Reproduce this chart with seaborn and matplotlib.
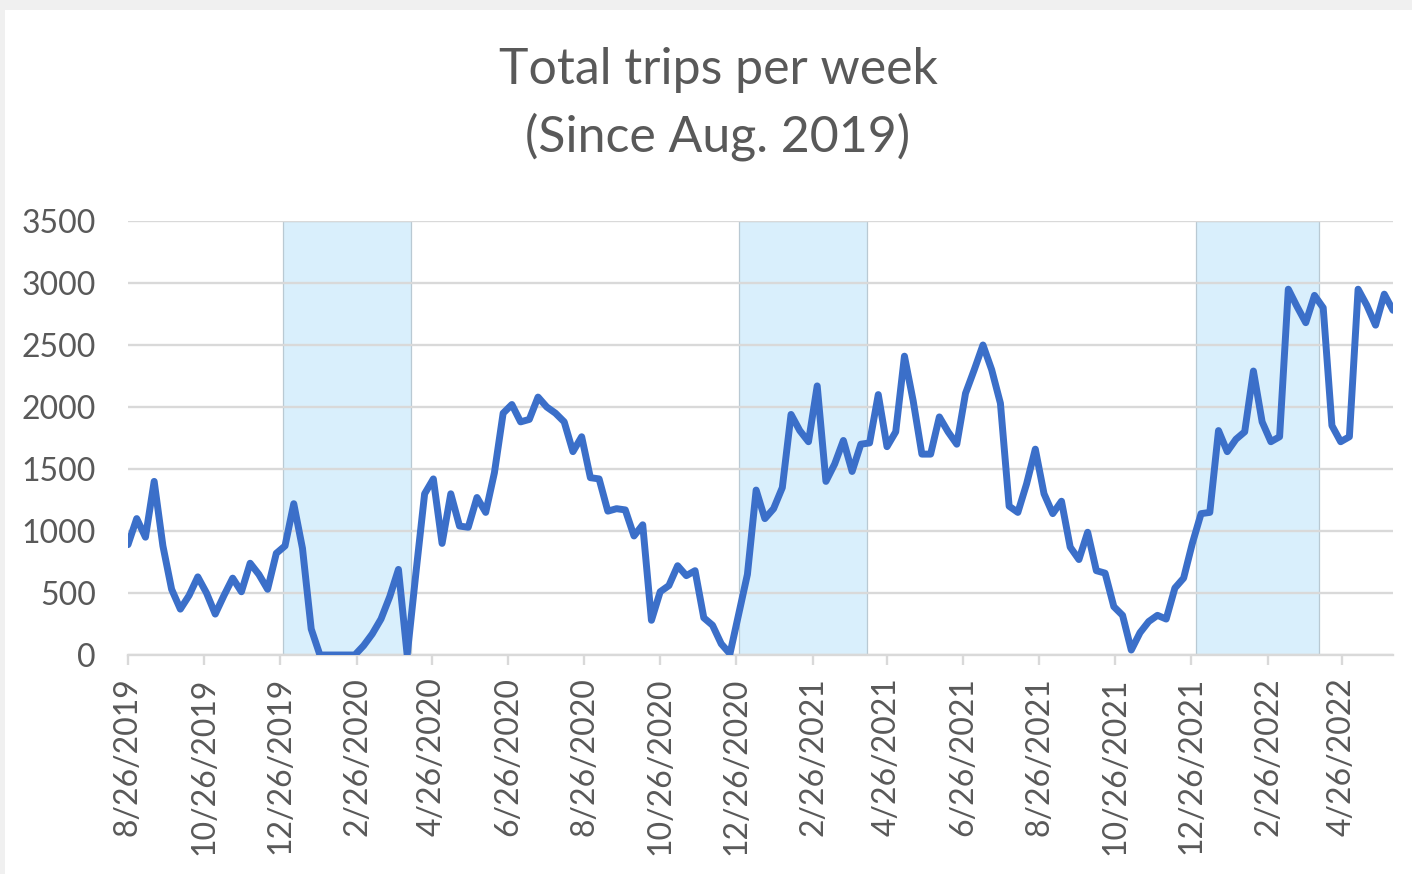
import matplotlib
matplotlib.use("Agg")
import matplotlib.pyplot as plt
import seaborn as sns
import pandas as pd
import numpy as np
from matplotlib.patches import Rectangle
from matplotlib.ticker import FixedLocator, FixedFormatter

title = "Total trips per week\n(Since Aug. 2019)"
start_date = "2019-08-26"
trips = [
    890, 1100, 950, 1400, 880, 530, 370, 480, 630, 500,
    330, 480, 620, 510, 740, 650, 530, 820, 880, 1220,
    860, 210, 0, 0, 0, 0, 0, 75, 170, 290,
    470, 690, 0, 660, 1300, 1420, 900, 1300, 1040, 1030,
    1270, 1150, 1470, 1950, 2020, 1880, 1900, 2080, 2000, 1950,
    1880, 1640, 1760, 1430, 1420, 1160, 1180, 1170, 960, 1050,
    280, 510, 560, 720, 640, 680, 300, 240, 90, 10,
    330, 650, 1330, 1100, 1180, 1350, 1940, 1810, 1720, 2170,
    1400, 1540, 1730, 1480, 1700, 1710, 2100, 1680, 1800, 2410,
    2050, 1620, 1620, 1920, 1800, 1700, 2110, 2300, 2500, 2300,
    2030, 1200, 1150, 1380, 1660, 1300, 1140, 1240, 870, 770,
    990, 680, 660, 390, 320, 40, 180, 270, 320, 290,
    540, 620, 900, 1140, 1150, 1810, 1640, 1740, 1800, 2290,
    1880, 1720, 1760, 2950, 2810, 2680, 2900, 2800, 1850, 1720,
    1760, 2950, 2820, 2660, 2910, 2780,
]
shade_starts = ["2019-12-28", "2020-12-28", "2021-12-30"]
shade_ends = ["2020-04-09", "2021-04-10", "2022-04-08"]
x_tick_labels = ["8/26/2019", "10/26/2019", "12/26/2019", "2/26/2020", "4/26/2020",
                 "6/26/2020", "8/26/2020", "10/26/2020", "12/26/2020", "2/26/2021",
                 "4/26/2021", "6/26/2021", "8/26/2021", "10/26/2021", "12/26/2021",
                 "2/26/2022", "4/26/2022"]
y_ticks = [0, 500, 1000, 1500, 2000, 2500, 3000, 3500]

dates = pd.date_range(start_date, periods=len(trips), freq="7D")
df = pd.DataFrame({"date": dates, "trips": trips})

sns.set_theme(style="white")
plt.rcParams["font.family"] = ["Lato", "DejaVu Sans"]

text_color = "#595959"
grid_color = "#d9d9d9"

fig = plt.figure(figsize=(14.12, 8.74), dpi=100)
fig.patch.set_facecolor("#f0f0f0")
fig.add_artist(Rectangle((5 / 1412, 0), 1.0, 1 - 10 / 874, transform=fig.transFigure,
                         facecolor="white", edgecolor="none", zorder=0))

ax = fig.add_axes([128 / 1412, (874 - 655) / 874, (1393 - 128) / 1412, 434 / 874])
ax.set_facecolor("none")

for s, e in zip(shade_starts, shade_ends):
    ax.axvspan(pd.Timestamp(s), pd.Timestamp(e), ymin=0, ymax=1,
               facecolor="#d9effc", edgecolor="#b9c9d3", linewidth=0.9, zorder=0.1)

sns.lineplot(data=df, x="date", y="trips", ax=ax, color="#3b6fc9", linewidth=5.0,
             zorder=3, solid_joinstyle="round", solid_capstyle="round")

ax.set_xlim(dates[0], dates[-1])
ax.set_ylim(0, 3500)
ax.yaxis.set_major_locator(FixedLocator(y_ticks))
ax.set_yticklabels([str(v) for v in y_ticks])
ax.grid(axis="y", color=grid_color, linewidth=1.7, zorder=0.5)
ax.grid(axis="x", visible=False)

tick_pos = matplotlib.dates.date2num(pd.to_datetime(x_tick_labels, format="%m/%d/%Y"))
ax.xaxis.set_major_locator(FixedLocator(tick_pos))
ax.xaxis.set_major_formatter(FixedFormatter(x_tick_labels))

for side in ["top", "right", "left"]:
    ax.spines[side].set_visible(False)
ax.spines["bottom"].set_color(grid_color)
ax.spines["bottom"].set_linewidth(1.7)
ax.spines["bottom"].set_zorder(0.6)

ax.tick_params(axis="y", length=0, pad=23, labelsize=23, labelcolor=text_color)
ax.tick_params(axis="x", length=7, width=1.7, color=grid_color, direction="out",
               pad=9, labelsize=23, labelcolor=text_color, labelrotation=90, bottom=True)
for lbl in ax.get_xticklabels():
    lbl.set_verticalalignment("top")
    lbl.set_horizontalalignment("center")

ax.set_xlabel("")
ax.set_ylabel("")

fig.text(718 / 1412, 1 - 104 / 874, title, ha="center", va="center",
         fontsize=36, color=text_color, linespacing=1.5)

fig.savefig("out.png", dpi=100, facecolor=fig.get_facecolor())
